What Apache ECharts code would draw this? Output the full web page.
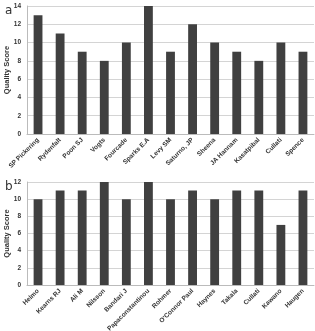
<!DOCTYPE html>
<html>
<head>
<meta charset="utf-8">
<script src="https://cdn.jsdelivr.net/npm/echarts@6/dist/echarts.min.js"></script>
<style>
html, body { margin: 0; padding: 0; background: #fff; }
#main { width: 315px; height: 331px; }
</style>
</head>
<body>
<div id="main"></div>
<script>
// panel a
var namesA = ['SP Pickering', 'Rydenfalt', 'Poon SJ', 'Vogts', 'Fourcade', 'Sparks E.A', 'Levy SM',
    'Saturno, JP', 'Sheena', 'JA Hannam', 'Kasatpibal', 'Cullati', 'Spence'];
var scoresA = [13, 11, 9, 8, 10, 14, 9, 12, 10, 9, 8, 10, 9];
// panel b
var namesB = ['Helmo', 'Kearns RJ', 'Ali M', 'Nilsson', 'Bandari J', 'Papaconstantinou', 'Rohmer',
    "O'Connor Paul", 'Haynes', 'Takala', 'Cullati', 'Kawano', 'Haugen'];
var scoresB = [10, 11, 11, 12, 10, 12, 10, 11, 10, 11, 11, 7, 11];

var myChart = echarts.init(document.getElementById('main'));

var catAxis = function (idx, names) {
    return {
        type: 'category',
        gridIndex: idx,
        data: names,
        axisTick: { show: false },
        axisLine: { lineStyle: { color: '#bbb' } },
        axisLabel: {
            interval: 0,
            rotate: 45,
            fontSize: 6.5,
            fontWeight: 'bold',
            color: '#333',
            margin: 5,
            fontFamily: 'Liberation Sans'
        }
    };
};
var valAxis = function (idx, max) {
    return {
        type: 'value',
        gridIndex: idx,
        min: 0,
        max: max,
        interval: 2,
        name: 'Quality Score',
        nameLocation: 'middle',
        nameGap: 16,
        nameMoveOverlap: false,
        nameTextStyle: { fontSize: 7.5, fontWeight: 'bold', color: '#333', fontFamily: 'Liberation Sans' },
        axisLine: { show: true, lineStyle: { color: '#bbb' } },
        axisTick: { show: false },
        axisLabel: { fontSize: 6.5, fontWeight: 'bold', color: '#333', margin: 6, fontFamily: 'Liberation Sans' },
        splitLine: { lineStyle: { color: '#d4d4d4' } }
    };
};

var option = {
    animation: false,
    title: [
        { text: 'a', left: 0, top: 0, textStyle: { fontSize: 12, fontWeight: 'normal', color: '#333', fontFamily: 'DejaVu Sans' } },
        { text: 'b', left: 0, top: 176, textStyle: { fontSize: 12, fontWeight: 'normal', color: '#333', fontFamily: 'DejaVu Sans' } }
    ],
    grid: [
        { left: 27, right: 1, top: 6, bottom: 197, outerBoundsMode: 'none', containLabel: false },
        { left: 27, right: 1, top: 182, bottom: 46, outerBoundsMode: 'none', containLabel: false }
    ],
    xAxis: [catAxis(0, namesA), catAxis(1, namesB)],
    yAxis: [valAxis(0, 14), valAxis(1, 12)],
    series: [
        {
            type: 'bar',
            xAxisIndex: 0,
            yAxisIndex: 0,
            data: scoresA,
            barWidth: '40%',
            itemStyle: { color: '#404040' }
        },
        {
            type: 'bar',
            xAxisIndex: 1,
            yAxisIndex: 1,
            data: scoresB,
            barWidth: '40%',
            itemStyle: { color: '#404040' }
        }
    ]
};
myChart.setOption(option);
</script>
</body>
</html>
